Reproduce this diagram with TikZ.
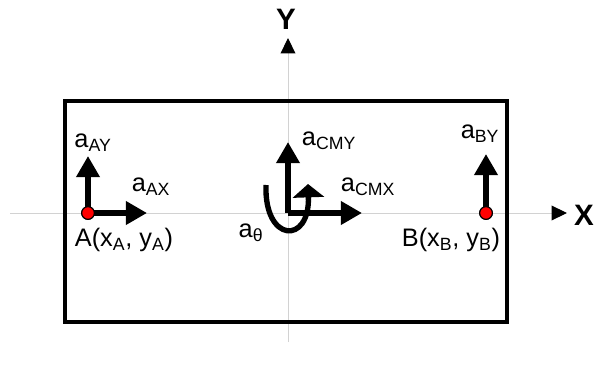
\documentclass[tikz,border=0pt]{standalone}
\usepackage{fontspec}
\setmainfont{Liberation Sans}
\usepackage{tikz}
\usetikzlibrary{arrows.meta}
\tikzset{
  axis/.style={gray!35, line width=0.7pt, -{Triangle[length=11pt, width=10.5pt, color=black]}},
  axlbl/.style={font=\fontsize{21}{24}\selectfont\bfseries, inner sep=0pt},
  body/.style={draw, line width=2.2pt},
  acc/.style={line width=4pt, -{Triangle[length=15pt, width=16pt]}},
  rot/.style={line width=3.8pt, -{Triangle[length=9.5pt, width=22pt]}},
  pt/.style={circle, draw, fill=red, line width=0.8pt, minimum size=9pt, inner sep=0pt},
  lbl/.style={font=\fontsize{18}{21}\selectfont, inner sep=0pt}
}
\begin{document}
\begin{tikzpicture}[x=0.025cm, y=-0.025cm]
  \useasboundingbox (0,0) rectangle (594,369);
  % axes
  \coordinate (xl) at (10,213);
  \coordinate (xr) at (567,213);
  \coordinate (yb) at (288,342);
  \coordinate (yt) at (288,38);
  \draw[axis] (xl) -- (xr);
  \draw[axis] (yb) -- (yt);
  \node[axlbl] (xlab) at (584,215) {X};
  \node[axlbl] (ylab) at (286,19) {Y};
  % rigid body
  \node[body, minimum width=442*0.025cm, minimum height=221*0.025cm, inner sep=0pt] (bar) at (286,211.5) {};
  % accelerations
  \coordinate (cm) at (288,213);
  \coordinate (cmx) at (362,213);
  \coordinate (cmy) at (288,142);
  \coordinate (a0) at (266,185);
  \coordinate (a1) at (308,184);
  \draw[rot] (a0) .. controls (264,243) and (310,245) .. (a1);
  \draw[acc] (cm) -- (cmx);
  \draw[acc] (cm) -- (cmy);
  \node[pt] (A) at (88,213) {};
  \node[pt] (B) at (486,213) {};
  \coordinate (ax) at (147,213);
  \coordinate (ay) at (88,156);
  \coordinate (by) at (486,154);
  \draw[acc] (A.center) -- (ax);
  \draw[acc] (A.center) -- (ay);
  \draw[acc] (B.center) -- (by);
  \node[pt] at (A) {};
  \node[pt] at (B) {};
  % labels
  \node[lbl] (laay) at (93,143) {a\textsubscript{AY}};
  \node[lbl] (laax) at (151,187) {a\textsubscript{AX}};
  \node[lbl] (lA) at (124,240) {A(x\textsubscript{A}, y\textsubscript{A})};
  \node[lbl] (laby) at (480,134) {a\textsubscript{BY}};
  \node[lbl] (lB) at (451,240) {B(x\textsubscript{B}, y\textsubscript{B})};
  \node[lbl] (lcmy) at (329,141) {a\textsubscript{CMY}};
  \node[lbl] (lcmx) at (368,187) {a\textsubscript{CMX}};
  \node[lbl] (lth) at (251,233) {a\textsubscript{θ}};
\end{tikzpicture}
\end{document}
